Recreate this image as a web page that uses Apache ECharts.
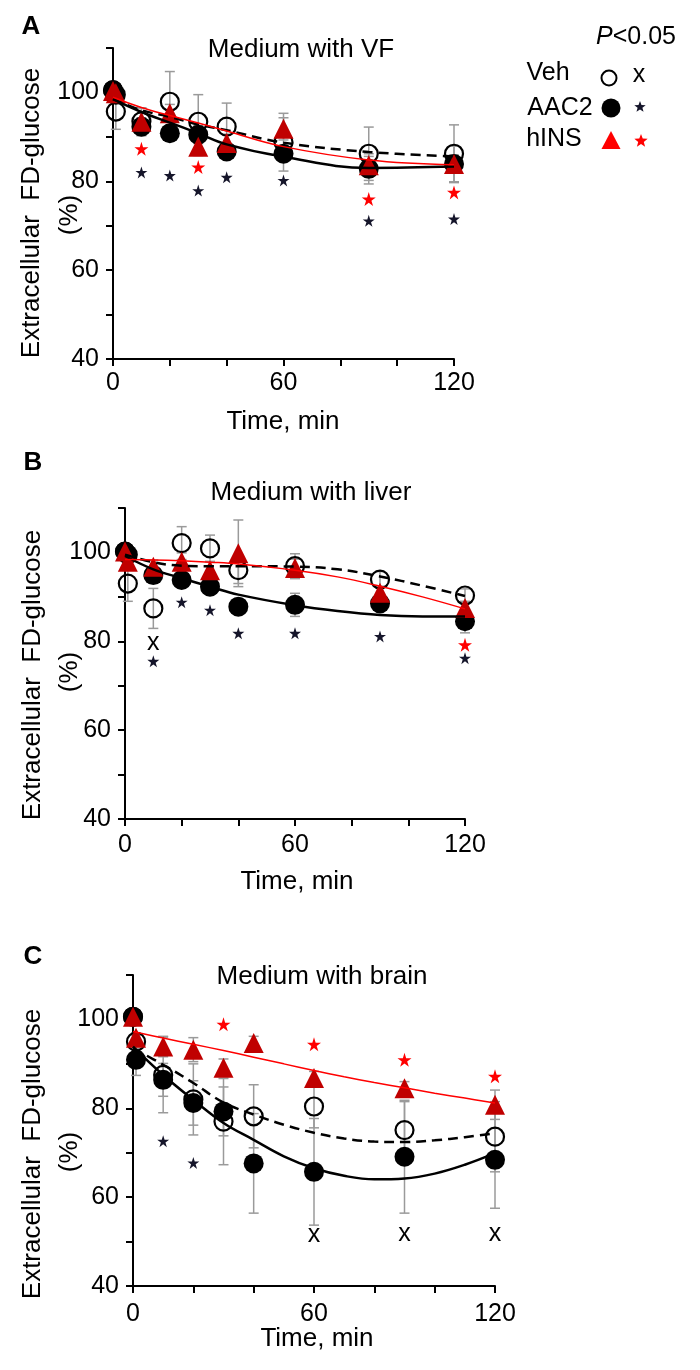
<!DOCTYPE html>
<html><head><meta charset="utf-8">
<script src="https://cdn.jsdelivr.net/npm/echarts@6/dist/echarts.min.js"></script>
<style>html,body{margin:0;padding:0;background:#fff}#c{width:700px;height:1370px}</style>
</head><body><div id="c"></div>
<script>
// ---------- DATA ----------
const times = [0, 1, 10, 20, 30, 40, 60, 90, 120];
const xTickLabels = [0, 60, 120];
const yTickLabels = [40, 60, 80, 100];

// Panel A: Medium with VF
const vehA = [100.5, 95.7, 93.5, 97.9, 93.4, 92.3, 88.8, 86.2, 86.2];
const aacA = [100.5, 99.5, 92.3, 90.8, 90.5, 86.7, 86.2, 82.8, 83.9];
const insA = [100.3, 99.8, 93.4, 95.3, 87.8, 88.6, 91.8, 83.6, 83.9];
const vehSemA = [0, 4, 3, 6.8, 6.1, 5.3, 6.5, 6, 6.5];
const aacSemA = [0, 1, 2, 1.5, 2, 1.5, 1.5, 3.4, 2];
const insSemA = [0, 1, 3.1, 2, 2, 2, 2.5, 2, 4];
const fitTA = [0, 10, 20, 30, 40, 60, 90, 120];
const vehFitA = [98.5, 96.0, 94.5, 92.8, 91.5, 88.7, 86.6, 85.6];
const aacFitA = [98.5, 95.6, 93.2, 90.8, 88.3, 85.5, 83.0, 83.3];
const insFitA = [98.9, 96.6, 94.8, 93.1, 91.3, 87.8, 84.8, 83.7];
const blackStarTA = [10, 20, 30, 40, 60, 90, 120];
const blackStarA = [82.0, 81.3, 77.9, 80.9, 80.2, 71.1, 71.5];
const redStarTA = [10, 30, 90, 120];
const redStarA = [87.3, 83.2, 76.0, 77.5];
const xMarkTA = [];
const xMarkA = [];

// Panel B: Medium with liver
const vehB = [100.2, 93.0, 87.4, 102.1, 100.9, 96.0, 96.9, 93.9, 90.3];
const aacB = [100.2, 99.5, 94.9, 93.8, 92.3, 87.8, 88.2, 88.5, 84.5];
const insB = [100.2, 97.9, 96.8, 97.9, 96.0, 99.8, 96.5, 90.9, 87.5];
const vehSemB = [0, 4, 4.5, 3.7, 3, 3, 2.8, 1.8, 1.5];
const aacSemB = [0, 1, 1.5, 1.5, 1.5, 1.5, 2.6, 1.5, 2.6];
const insSemB = [0, 1, 1.5, 2, 2, 7.5, 2, 1.5, 1.5];
const fitTB = [0, 10, 20, 30, 40, 60, 75, 90, 105, 120];
const vehFitB = [99.5, 97.8, 97.0, 96.9, 96.9, 96.8, 96.2, 94.6, 92.5, 90.2];
const aacFitB = [99.2, 96.2, 94.2, 92.3, 90.5, 88.1, 86.8, 85.9, 85.6, 85.6];
const insFitB = [98.4, 98.3, 98.1, 97.8, 97.4, 96.0, 94.5, 92.4, 90.0, 87.3];
const blackStarTB = [10, 20, 30, 40, 60, 90, 120];
const blackStarB = [75.5, 88.8, 87.0, 81.8, 81.8, 81.1, 76.2];
const redStarTB = [120];
const redStarB = [79.2];
const xMarkTB = [10];
const xMarkB = [78.9];

// Panel C: Medium with brain
const vehC = [100.6, 95.0, 87.5, 82.0, 77.0, 78.2, 80.4, 75.1, 73.6];
const aacC = [100.6, 90.9, 86.4, 81.2, 79.3, 67.6, 65.7, 69.1, 68.4];
const insC = [100.6, 95.9, 93.9, 93.2, 89.1, 94.7, 86.8, 84.5, 80.8];
const vehSemC = [0, 1.5, 8.5, 8, 9.7, 7.1, 4.8, 6.4, 7.9];
const aacSemC = [0, 3.5, 3.7, 5, 5.5, 11.2, 12, 12.7, 10.9];
const insSemC = [0, 1, 2.3, 2.7, 2, 1.5, 1.5, 1.5, 3.3];
const fitTC = [0, 10, 20, 30, 40, 50, 60, 70, 80, 90, 100, 110, 120];
const vehFitC = [93.5, 89.8, 85.7, 81.3, 78.6, 76.3, 74.5, 73.2, 72.5, 72.4, 72.8, 73.5, 74.4];
const aacFitC = [93.9, 87.5, 81.9, 76.7, 72.9, 69.2, 66.5, 64.8, 64.0, 64.2, 65.3, 67.3, 69.9];
const insFitC = [97.3, 95.8, 94.4, 93.0, 91.5, 90.0, 88.5, 87.1, 85.8, 84.6, 83.4, 82.3, 81.2];
const blackStarTC = [10, 20];
const blackStarC = [72.6, 67.7];
const redStarTC = [30, 60, 90, 120];
const redStarC = [98.9, 94.4, 90.9, 87.2];
const xMarkTC = [60, 90, 120];
const xMarkC = [50.8, 51.1, 51.1];

const panelTitles = ['Medium with VF', 'Medium with liver', 'Medium with brain'];
const panelLetters = ['A', 'B', 'C'];
const yName1 = 'Extracellular  FD-glucose';
const yName2 = '(%)';
const xName = 'Time, min';
const legendNames = ['Veh', 'AAC2', 'hINS'];

// ---------- LAYOUT ----------
const FONT = '"Liberation Sans", Arial, sans-serif';
const FS = 25;
const grids = [
  {left: 113, right: 246, top: 48, bottom: 1011},
  {left: 125, right: 235, top: 508, bottom: 551},
  {left: 133, right: 205, top: 975, bottom: 84}
];
const xLabelMargin = [12, 14, 16];
const letterPos = [[31, 27], [33, 463], [33, 957]];
const titlePos = [[301, 50], [311, 493], [322, 977]];
const yNamePos = [[32, 213, 70, 215], [33, 675, 70, 672], [33, 1154, 70, 1152]];
const xNamePos = [[283, 422], [297, 882], [317, 1339]];

const panels = [
  {veh: vehA, aac: aacA, ins: insA, vs: vehSemA, as: aacSemA, is: insSemA,
   fitT: fitTA, vf: vehFitA, af: aacFitA, inf: insFitA,
   bsT: blackStarTA, bs: blackStarA, rsT: redStarTA, rs: redStarA, xT: xMarkTA, xm: xMarkA},
  {veh: vehB, aac: aacB, ins: insB, vs: vehSemB, as: aacSemB, is: insSemB,
   fitT: fitTB, vf: vehFitB, af: aacFitB, inf: insFitB,
   bsT: blackStarTB, bs: blackStarB, rsT: redStarTB, rs: redStarB, xT: xMarkTB, xm: xMarkB},
  {veh: vehC, aac: aacC, ins: insC, vs: vehSemC, as: aacSemC, is: insSemC,
   fitT: fitTC, vf: vehFitC, af: aacFitC, inf: insFitC,
   bsT: blackStarTC, bs: blackStarC, rsT: redStarTC, rs: redStarC, xT: xMarkTC, xm: xMarkC}
];

const starPath = 'path://M50,0L61.2,34.5L97.6,34.5L68.2,55.9L79.4,90.5L50,69.1L20.6,90.5L31.8,55.9L2.4,34.5L38.8,34.5Z';
const zip = (xs, ys) => xs.map((x, i) => [x, ys[i]]);

function renderErr(params, api) {
  const x = api.value(0), lo = api.value(1), hi = api.value(2);
  const a = api.coord([x, hi]), b = api.coord([x, lo]);
  const w = 5;
  const st = {stroke: '#9a9a9a', lineWidth: 1.5};
  return {type: 'group', children: [
    {type: 'line', shape: {x1: a[0], y1: a[1], x2: b[0], y2: b[1]}, style: st},
    {type: 'line', shape: {x1: a[0] - w, y1: a[1], x2: a[0] + w, y2: a[1]}, style: st},
    {type: 'line', shape: {x1: b[0] - w, y1: b[1], x2: b[0] + w, y2: b[1]}, style: st}
  ]};
}

const xAxes = [], yAxes = [], series = [];
panels.forEach((p, i) => {
  xAxes.push({
    gridIndex: i, type: 'value', min: 0, max: 120, interval: 20,
    axisLine: {onZero: false, lineStyle: {color: '#000', width: 2}},
    axisTick: {length: 7, lineStyle: {color: '#000', width: 2}},
    axisLabel: {formatter: v => xTickLabels.includes(v) ? String(v) : '', fontSize: FS,
      color: '#000', fontFamily: FONT, margin: xLabelMargin[i]},
    splitLine: {show: false}
  });
  yAxes.push({
    gridIndex: i, type: 'value', min: 40, max: 110, interval: 10,
    axisLine: {onZero: false, lineStyle: {color: '#000', width: 2}},
    axisTick: {length: 7, lineStyle: {color: '#000', width: 2}},
    axisLabel: {formatter: v => yTickLabels.includes(v) ? String(v) : '', fontSize: FS,
      color: '#000', fontFamily: FONT, margin: 14},
    splitLine: {show: false}
  });
  const errData = [];
  [[p.veh, p.vs], [p.aac, p.as], [p.ins, p.is]].forEach(([v, s]) => {
    times.forEach((t, k) => { if (s[k] > 0) errData.push([t, v[k] - s[k], v[k] + s[k]]); });
  });
  series.push({type: 'custom', xAxisIndex: i, yAxisIndex: i, renderItem: renderErr,
    data: errData, z: 1, silent: true, clip: false});
  series.push({type: 'scatter', xAxisIndex: i, yAxisIndex: i, data: zip(times, p.veh),
    symbol: 'circle', symbolSize: 18, z: 2, clip: false,
    itemStyle: {color: 'rgba(255,255,255,0)', borderColor: '#000', borderWidth: 2.2, opacity: 1}});
  series.push({type: 'scatter', xAxisIndex: i, yAxisIndex: i, data: zip(times, p.aac),
    symbol: 'circle', symbolSize: 20, z: 3, clip: false, itemStyle: {color: '#000', opacity: 1}});
  series.push({type: 'scatter', xAxisIndex: i, yAxisIndex: i, data: zip(times, p.ins),
    symbol: 'triangle', symbolSize: 20, z: 4, clip: false, itemStyle: {color: '#c00000', opacity: 1}});
  series.push({type: 'line', xAxisIndex: i, yAxisIndex: i, data: zip(p.fitT, p.vf),
    showSymbol: false, smooth: 0.4, z: 5, clip: false,
    lineStyle: {color: '#000', width: 2.5, type: [10, 6]}});
  series.push({type: 'line', xAxisIndex: i, yAxisIndex: i, data: zip(p.fitT, p.af),
    showSymbol: false, smooth: 0.4, z: 5, clip: false,
    lineStyle: {color: '#000', width: 2.5}});
  series.push({type: 'line', xAxisIndex: i, yAxisIndex: i, data: zip(p.fitT, p.inf),
    showSymbol: false, smooth: 0.4, z: 6, clip: false,
    lineStyle: {color: '#ff0000', width: 1.5}});
  series.push({type: 'scatter', xAxisIndex: i, yAxisIndex: i, data: zip(p.bsT, p.bs),
    symbol: starPath, symbolSize: 12, z: 7, itemStyle: {color: '#15152a', opacity: 1}});
  series.push({type: 'scatter', xAxisIndex: i, yAxisIndex: i, data: zip(p.rsT, p.rs),
    symbol: starPath, symbolSize: 14, z: 7, itemStyle: {color: '#ff0000', opacity: 1}});
  if (p.xT.length) {
    series.push({type: 'scatter', xAxisIndex: i, yAxisIndex: i, data: zip(p.xT, p.xm),
      symbol: 'circle', symbolSize: 1, z: 7, itemStyle: {color: 'rgba(0,0,0,0)', opacity: 1},
      label: {show: true, position: 'inside', formatter: 'x', fontSize: FS, color: '#000',
        opacity: 1, textBorderWidth: 0, fontFamily: FONT, offset: [0, -3]}});
  }
});

const txt = (x, y, text, extra) => Object.assign({type: 'text', x, y, z: 10,
  style: Object.assign({text, fill: '#000', fontSize: FS, fontFamily: FONT,
    align: 'center', verticalAlign: 'middle'}, extra || {})});
const graphic = [];
panels.forEach((p, i) => {
  graphic.push(txt(letterPos[i][0], letterPos[i][1], panelLetters[i], {fontWeight: 'bold', fontSize: 26}));
  graphic.push(txt(titlePos[i][0], titlePos[i][1], panelTitles[i], {fontSize: 26}));
  const yn1 = txt(yNamePos[i][0], yNamePos[i][1], yName1, {fontSize: 26});
  yn1.rotation = Math.PI / 2;
  const yn2 = txt(yNamePos[i][2], yNamePos[i][3], yName2, {fontSize: 26});
  yn2.rotation = Math.PI / 2;
  graphic.push(yn1, yn2);
  graphic.push(txt(xNamePos[i][0], xNamePos[i][1], xName, {fontSize: 26}));
});
// legend
graphic.push(txt(636, 37, '{i|P}<0.05', {rich: {i: {fontStyle: 'italic', fontSize: FS, fontFamily: FONT}}}));
graphic.push(txt(548, 73, legendNames[0]));
graphic.push(txt(560, 108, legendNames[1]));
graphic.push(txt(554, 139, legendNames[2]));
graphic.push({type: 'circle', shape: {cx: 609, cy: 78, r: 7.5}, style: {fill: 'none', stroke: '#000', lineWidth: 2}});
graphic.push({type: 'circle', shape: {cx: 611, cy: 108, r: 9.5}, style: {fill: '#000'}});
graphic.push({type: 'polygon', shape: {points: [[611, 131], [620.5, 149], [601.5, 149]]}, style: {fill: '#ff0000'}});
graphic.push(txt(639, 75, 'x'));
function starPts(cx, cy, r) {
  const pts = [];
  for (let k = 0; k < 10; k++) {
    const a = -Math.PI / 2 + k * Math.PI / 5;
    const rr = k % 2 ? r * 0.42 : r;
    pts.push([cx + rr * Math.cos(a), cy + rr * Math.sin(a)]);
  }
  return pts;
}
graphic.push({type: 'polygon', shape: {points: starPts(640, 107, 6)}, style: {fill: '#15152a'}});
graphic.push({type: 'polygon', shape: {points: starPts(641, 141, 7)}, style: {fill: '#ff0000'}});

const chart = echarts.init(document.getElementById('c'), null, {renderer: 'canvas'});
chart.setOption({
  animation: false,
  backgroundColor: '#fff',
  grid: grids.map(g => Object.assign({containLabel: false}, g)),
  xAxis: xAxes,
  yAxis: yAxes,
  series,
  graphic
});
</script></body></html>
